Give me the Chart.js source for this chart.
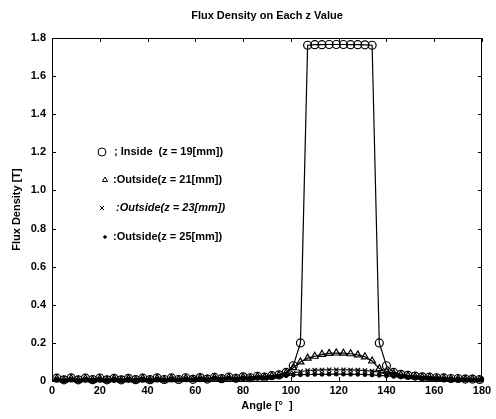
<!DOCTYPE html>
<html>
<head>
<meta charset="utf-8">
<script src="https://cdn.jsdelivr.net/npm/chart.js@4"></script>
<style>
  html, body { margin: 0; padding: 0; background: #fff; }
  #wrap { width: 496px; height: 419px; position: relative; }
</style>
</head>
<body>
<div id="wrap"><canvas id="chart" width="496" height="419"></canvas></div>
<script>
// angles [deg], sampled every 3 deg
const angles = [2, 5, 8, 11, 14, 17, 20, 23, 26, 29, 32, 35, 38, 41, 44, 47, 50, 53, 56, 59,
  62, 65, 68, 71, 74, 77, 80, 83, 86, 89, 92, 95, 98, 101, 104, 107, 110, 113, 116, 119,
  122, 125, 128, 131, 134, 137, 140, 143, 146, 149, 152, 155, 158, 161, 164, 167, 170, 173, 176, 179];

const insideZ19 = [0.015, 0.006, 0.016, 0.006, 0.015, 0.007, 0.015, 0.006, 0.014, 0.006, 0.014, 0.007, 0.015, 0.007, 0.016, 0.008, 0.016, 0.008, 0.017, 0.009,
  0.018, 0.01, 0.019, 0.012, 0.021, 0.014, 0.022, 0.017, 0.025, 0.02, 0.028, 0.032, 0.045, 0.08, 0.2, 1.762, 1.765, 1.765, 1.766, 1.766,
  1.766, 1.765, 1.765, 1.764, 1.762, 0.2, 0.08, 0.045, 0.035, 0.03, 0.026, 0.022, 0.02, 0.017, 0.016, 0.013, 0.013, 0.01, 0.01, 0.008];

const outsideZ21 = [0.012, 0.004, 0.013, 0.004, 0.012, 0.005, 0.012, 0.004, 0.012, 0.005, 0.012, 0.005, 0.013, 0.005, 0.013, 0.006, 0.014, 0.007, 0.015, 0.008,
  0.016, 0.009, 0.017, 0.011, 0.019, 0.013, 0.02, 0.016, 0.023, 0.019, 0.026, 0.03, 0.042, 0.07, 0.1, 0.12, 0.13, 0.14, 0.145, 0.147,
  0.146, 0.143, 0.137, 0.127, 0.105, 0.065, 0.05, 0.04, 0.032, 0.027, 0.023, 0.02, 0.018, 0.015, 0.014, 0.012, 0.011, 0.009, 0.009, 0.007];

const outsideZ23 = [0.01, 0.003, 0.011, 0.003, 0.01, 0.004, 0.01, 0.004, 0.011, 0.004, 0.011, 0.004, 0.011, 0.005, 0.012, 0.005, 0.012, 0.006, 0.013, 0.007,
  0.014, 0.008, 0.015, 0.01, 0.017, 0.012, 0.018, 0.015, 0.02, 0.018, 0.023, 0.027, 0.035, 0.042, 0.05, 0.055, 0.057, 0.058, 0.059, 0.059,
  0.059, 0.058, 0.057, 0.055, 0.052, 0.046, 0.04, 0.033, 0.028, 0.024, 0.021, 0.018, 0.016, 0.014, 0.012, 0.011, 0.01, 0.008, 0.008, 0.006];

const outsideZ25 = [0.008, 0.002, 0.009, 0.002, 0.008, 0.003, 0.009, 0.003, 0.009, 0.003, 0.009, 0.003, 0.01, 0.004, 0.01, 0.004, 0.011, 0.005, 0.011, 0.006,
  0.012, 0.007, 0.013, 0.008, 0.015, 0.01, 0.016, 0.013, 0.018, 0.016, 0.02, 0.023, 0.028, 0.031, 0.033, 0.034, 0.035, 0.035, 0.036, 0.036,
  0.036, 0.035, 0.035, 0.034, 0.032, 0.03, 0.027, 0.024, 0.021, 0.019, 0.017, 0.015, 0.013, 0.012, 0.011, 0.01, 0.008, 0.007, 0.006, 0.005];

const seriesLabels = ["Inside  (z = 19[mm])", "Outside(z = 21[mm])", "Outside(z = 23[mm])", "Outside(z = 25[mm])"];
const legendPrefix = ["; ", ":", ":", ":"];
const xTicks = [0, 20, 40, 60, 80, 100, 120, 140, 160, 180];
const yTicks = [0, 0.2, 0.4, 0.6, 0.8, 1, 1.2, 1.4, 1.6, 1.8];

const FONT = "'Liberation Sans', Arial, sans-serif";

function pts(vals) {
  return angles.map((a, i) => ({ x: a, y: vals[i] }));
}

function makeSet(label, vals, style, radius, filled) {
  return {
    label: label,
    data: pts(vals),
    borderColor: "#000",
    borderWidth: 1.2,
    backgroundColor: filled ? "#000" : "rgba(0,0,0,0)",
    pointStyle: style,
    pointRadius: radius,
    pointBorderColor: "#000",
    pointBorderWidth: 1.2,
    pointBackgroundColor: filled ? "#000" : "rgba(0,0,0,0)",
    tension: 0,
    clip: false
  };
}

// MATLAB-like box with inward ticks, title and in-plot legend
const boxPlugin = {
  id: "boxPlugin",
  afterDraw(chart) {
    const ctx = chart.ctx;
    const a = chart.chartArea;
    const xs = chart.scales.x, ys = chart.scales.y;
    ctx.save();
    ctx.strokeStyle = "#000";
    ctx.lineWidth = 1;
    ctx.strokeRect(a.left + 0.5, a.top + 0.5, a.right - a.left - 1, a.bottom - a.top);
    ctx.beginPath();
    xTicks.forEach(v => {
      const px = Math.round(xs.getPixelForValue(v)) + 0.5;
      ctx.moveTo(px, a.bottom); ctx.lineTo(px, a.bottom - 4);
      ctx.moveTo(px, a.top); ctx.lineTo(px, a.top + 4);
    });
    yTicks.forEach(v => {
      const py = Math.round(ys.getPixelForValue(v)) + 0.5;
      ctx.moveTo(a.left, py); ctx.lineTo(a.left + 4, py);
      ctx.moveTo(a.right, py); ctx.lineTo(a.right - 4, py);
    });
    ctx.stroke();

    // title
    ctx.fillStyle = "#000";
    ctx.font = "bold 11px " + FONT;
    ctx.textAlign = "center";
    ctx.textBaseline = "middle";
    ctx.fillText("Flux Density on Each z Value", 267, 16);

    // legend
    const rows = [152, 180, 208, 237];
    const markX = [102, 105, 102, 105];
    const textX = [114, 113, 116, 113];
    ctx.textAlign = "left";
    chart.data.datasets.forEach((ds, i) => {
      ctx.strokeStyle = "#000";
      ctx.fillStyle = ds.pointBackgroundColor;
      ctx.lineWidth = 1;
      Chart.helpers.drawPoint(ctx, {
        pointStyle: ds.pointStyle,
        radius: i === 0 ? 4 : (i === 3 ? 1.3 : 3),
        borderWidth: 1,
        rotation: 0
      }, markX[i], rows[i]);
      ctx.fillStyle = "#000";
      ctx.font = (i === 2 ? "italic " : "") + "bold 11px " + FONT;
      ctx.fillText(legendPrefix[i] + ds.label, textX[i], rows[i]);
    });
    ctx.restore();
  }
};

new Chart(document.getElementById("chart"), {
  type: "line",
  data: {
    datasets: [
      makeSet(seriesLabels[0], insideZ19, "circle", 4, false),
      makeSet(seriesLabels[1], outsideZ21, "triangle", 4, false),
      makeSet(seriesLabels[2], outsideZ23, "crossRot", 3, false),
      makeSet(seriesLabels[3], outsideZ25, "circle", 1.8, true)
    ]
  },
  options: {
    responsive: false,
    animation: false,
    layout: { padding: { top: 38, right: 14, left: 0, bottom: 0 } },
    plugins: {
      legend: { display: false },
      tooltip: { enabled: false },
      title: { display: false }
    },
    scales: {
      x: {
        type: "linear",
        min: 0,
        max: 180,
        afterBuildTicks: s => { s.ticks = xTicks.map(v => ({ value: v })); },
        afterFit: s => { s.height = 419 - 381; },
        grid: { display: false, drawTicks: false },
        border: { display: false },
        ticks: { color: "#000", font: { family: FONT, size: 11, weight: "bold" }, padding: 3, maxRotation: 0 },
        title: {
          display: true,
          text: "Angle [\u00b0  ]",
          color: "#000",
          font: { family: FONT, size: 11, weight: "bold" },
          padding: { top: 0, bottom: 6 }
        }
      },
      y: {
        min: 0,
        max: 1.8,
        afterBuildTicks: s => { s.ticks = yTicks.map(v => ({ value: v })); },
        afterFit: s => { s.width = 52; },
        grid: { display: false, drawTicks: false },
        border: { display: false },
        ticks: { color: "#000", font: { family: FONT, size: 11, weight: "bold" }, padding: 6 },
        title: {
          display: true,
          text: "Flux Density [T]",
          color: "#000",
          font: { family: FONT, size: 11, weight: "bold" },
          padding: { top: 10, bottom: 0 }
        }
      }
    }
  },
  plugins: [boxPlugin]
});
</script>
</body>
</html>
